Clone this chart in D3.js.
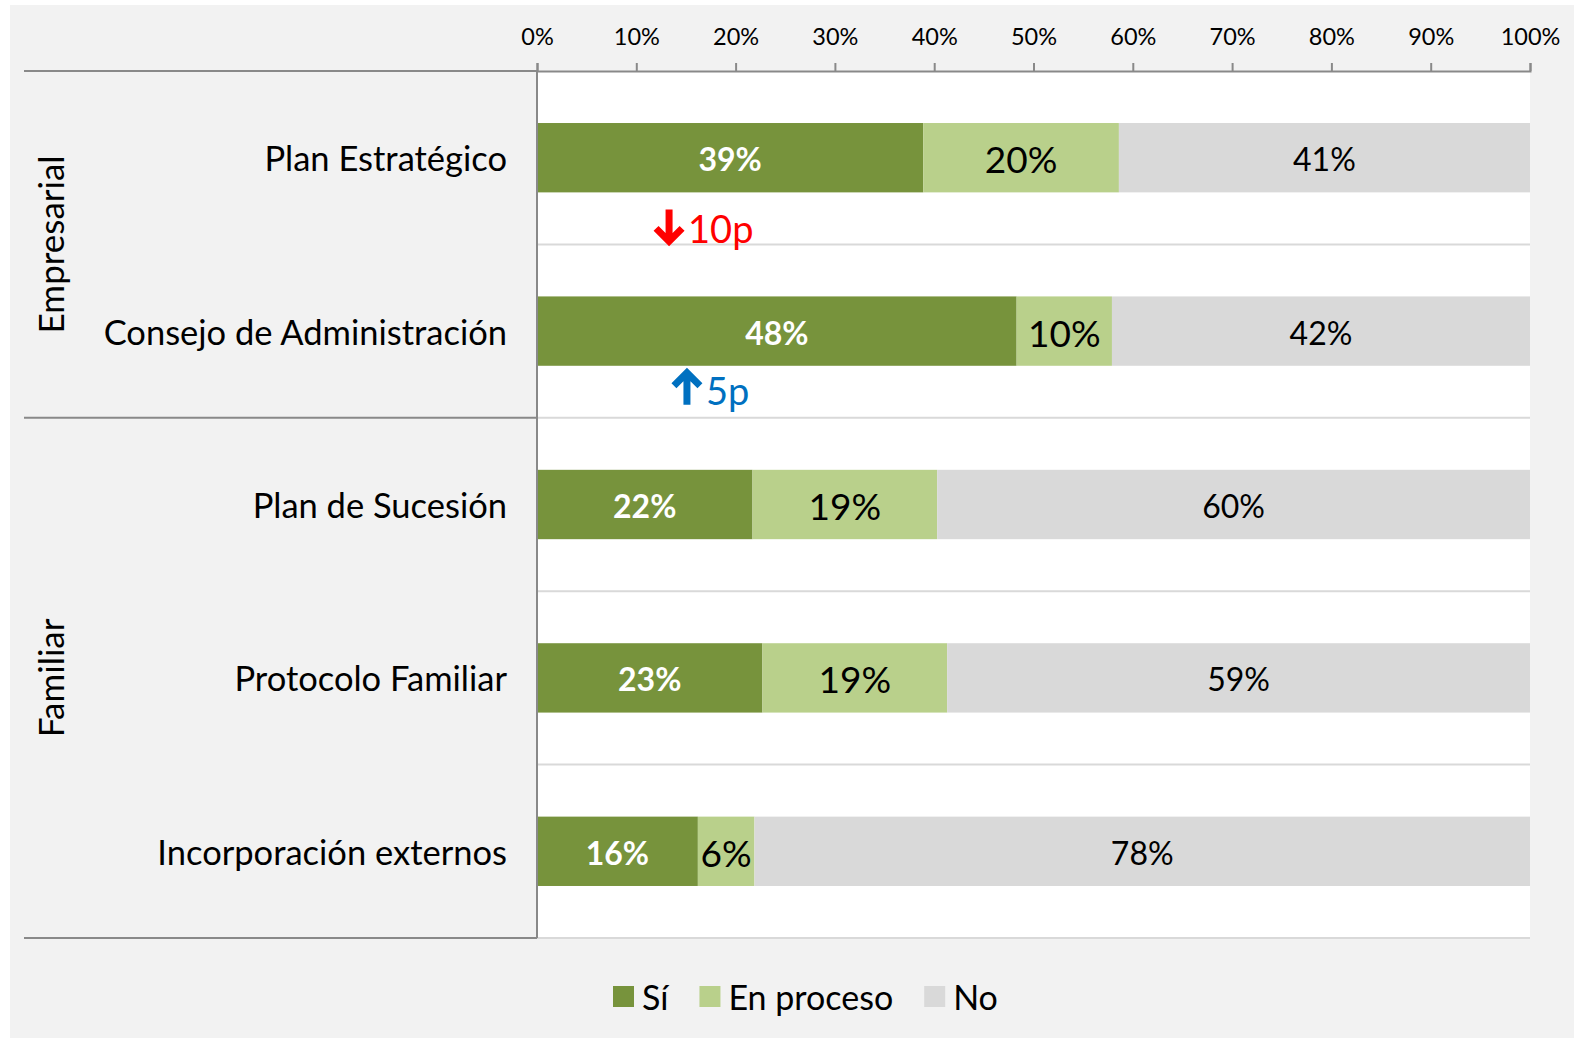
<!DOCTYPE html>
<html>
<head>
<meta charset="utf-8">
<script src="https://cdn.jsdelivr.net/npm/d3@7"></script>
<style>
  body { margin: 0; background: #fff; }
  svg { display: block; font-family: Lato, "Open Sans", sans-serif; }
</style>
</head>
<body>
<svg id="chart" width="1574" height="1038"></svg>
<script>
// data
const categories = ["Plan Estratégico", "Consejo de Administración", "Plan de Sucesión", "Protocolo Familiar", "Incorporación externos"];
const groups = ["Empresarial", "Empresarial", "Familiar", "Familiar", "Familiar"];
const si = [38.9, 48.3, 21.7, 22.7, 16.2];
const enProceso = [19.7, 9.6, 18.6, 18.6, 5.7];
const no = [41.4, 42.1, 59.7, 58.7, 78.1];
const seriesNames = ["Sí", "En proceso", "No"];
const ticks = [0, 10, 20, 30, 40, 50, 60, 70, 80, 90, 100];

// change vs previous year
const changeCat = ["Plan Estratégico", "Consejo de Administración"];
const changeText = ["10p", "5p"];
const changeDir = ["down", "up"];
const changeAt = [13.3, 15.1];

const colors = ["#77933c", "#b9d08b", "#d9d9d9"];

const svg = d3.select("#chart");
const mLeft = 537, mRight = 1530, mTop = 71, mBottom = 938;

// background
svg.append("rect").attr("x", 10).attr("y", 5).attr("width", 1564).attr("height", 1033).attr("fill", "#f2f2f2");
svg.append("rect").attr("x", mLeft).attr("y", mTop).attr("width", mRight - mLeft).attr("height", mBottom - mTop).attr("fill", "#fff");

const x = d3.scaleLinear().domain([0, 100]).range([mLeft, mRight]);
const y = d3.scaleBand().domain(categories).range([mTop, mBottom]).paddingInner(0.6).paddingOuter(0.3);
const step = y.step();

// horizontal gridlines between categories
svg.append("g").selectAll("line")
  .data(categories)
  .enter().append("line")
  .attr("x1", mLeft).attr("x2", mRight)
  .attr("y1", (d, i) => mTop + (i + 1) * step)
  .attr("y2", (d, i) => mTop + (i + 1) * step)
  .attr("stroke", "#d9d9d9").attr("stroke-width", 2);

// stacked data
const rows = categories.map((c, i) => ({ cat: c, "Sí": si[i], "En proceso": enProceso[i], "No": no[i] }));
const stacked = d3.stack().keys(seriesNames)(rows);

const layer = svg.append("g").selectAll("g")
  .data(stacked)
  .enter().append("g")
  .attr("fill", (d, i) => colors[i]);

layer.selectAll("rect")
  .data(d => d)
  .enter().append("rect")
  .attr("x", d => x(d[0]))
  .attr("y", d => y(d.data.cat))
  .attr("width", d => x(d[1]) - x(d[0]))
  .attr("height", y.bandwidth());

// value labels
const labelStyle = [
  { size: 32, weight: "bold", fill: "#fff" },
  { size: 37, weight: "normal", fill: "#000" },
  { size: 32, weight: "normal", fill: "#000" }
];
stacked.forEach((s, k) => {
  svg.append("g").selectAll("text")
    .data(s)
    .enter().append("text")
    .attr("x", d => x((d[0] + d[1]) / 2))
    .attr("y", d => y(d.data.cat) + y.bandwidth() / 2 + 1)
    .attr("text-anchor", "middle")
    .attr("dominant-baseline", "central")
    .attr("font-size", labelStyle[k].size)
    .attr("font-weight", labelStyle[k].weight)
    .attr("fill", labelStyle[k].fill)
    .text(d => Math.round(d[1] - d[0]) + "%");
});

// top axis
const axis = svg.append("g")
  .attr("transform", `translate(0,${mTop})`)
  .call(d3.axisTop(x).tickValues(ticks).tickFormat(d => d + "%").tickSize(8).tickPadding(18));
axis.select(".domain").attr("stroke", "#898989").attr("stroke-width", 2);
axis.selectAll(".tick line").attr("stroke", "#898989").attr("stroke-width", 2);
axis.selectAll(".tick text").attr("font-size", 23.5).attr("font-family", "Lato").attr("fill", "#000");

// vertical axis line
svg.append("line").attr("x1", mLeft).attr("x2", mLeft).attr("y1", mTop).attr("y2", mBottom)
  .attr("stroke", "#898989").attr("stroke-width", 2);

// category labels
svg.append("g").selectAll("text")
  .data(categories)
  .enter().append("text")
  .attr("x", mLeft - 30)
  .attr("y", d => y(d) + y.bandwidth() / 2)
  .attr("text-anchor", "end")
  .attr("dominant-baseline", "central")
  .attr("font-size", 34.5)
  .text(d => d);

// group separators and labels
const groupNames = Array.from(new Set(groups));
let edges = [mTop];
groupNames.forEach(g => {
  const last = groups.lastIndexOf(g);
  edges.push(mTop + (last + 1) * step);
});
svg.append("g").selectAll("line")
  .data(edges)
  .enter().append("line")
  .attr("x1", 24).attr("x2", mLeft)
  .attr("y1", d => d).attr("y2", d => d)
  .attr("stroke", "#898989").attr("stroke-width", 2);

svg.append("g").selectAll("text")
  .data(groupNames)
  .enter().append("text")
  .attr("transform", (g, i) => `translate(50,${(edges[i] + edges[i + 1]) / 2}) rotate(-90)`)
  .attr("text-anchor", "middle")
  .attr("dominant-baseline", "central")
  .attr("font-size", 35)
  .text(d => d);

// change annotations
const changeDy = [34, 22];
changeCat.forEach((c, i) => {
  const cx = x(changeAt[i]);
  const cy = y(c) + y.bandwidth() + changeDy[i];
  const col = changeDir[i] === "down" ? "#ff0000" : "#0070c0";
  const s = changeDir[i] === "down" ? 1 : -1;
  const g = svg.append("g").attr("transform", `translate(${cx},${cy})`);
  g.append("path")
    .attr("d", `M0,${-17 * s} L0,${15 * s} M-13,${2 * s} L0,${15 * s} L13,${2 * s}`)
    .attr("fill", "none").attr("stroke", col).attr("stroke-width", 7)
    .attr("stroke-linejoin", "miter");
  g.append("text")
    .attr("x", 19).attr("y", 17)
    .attr("font-size", 38)
    .attr("fill", col)
    .text(changeText[i]);
});

// legend
const legend = svg.append("g").attr("transform", "translate(613,996)");
let lx = 0;
seriesNames.forEach((n, i) => {
  const it = legend.append("g").attr("transform", `translate(${lx},0)`);
  it.append("rect").attr("x", 0).attr("y", -10).attr("width", 21).attr("height", 21).attr("fill", colors[i]);
  const t = it.append("text").attr("x", 29).attr("y", 0)
    .attr("dominant-baseline", "central").attr("font-size", 34).text(n);
  lx += 29 + t.node().getComputedTextLength() + 31;
});
</script>
</body>
</html>
